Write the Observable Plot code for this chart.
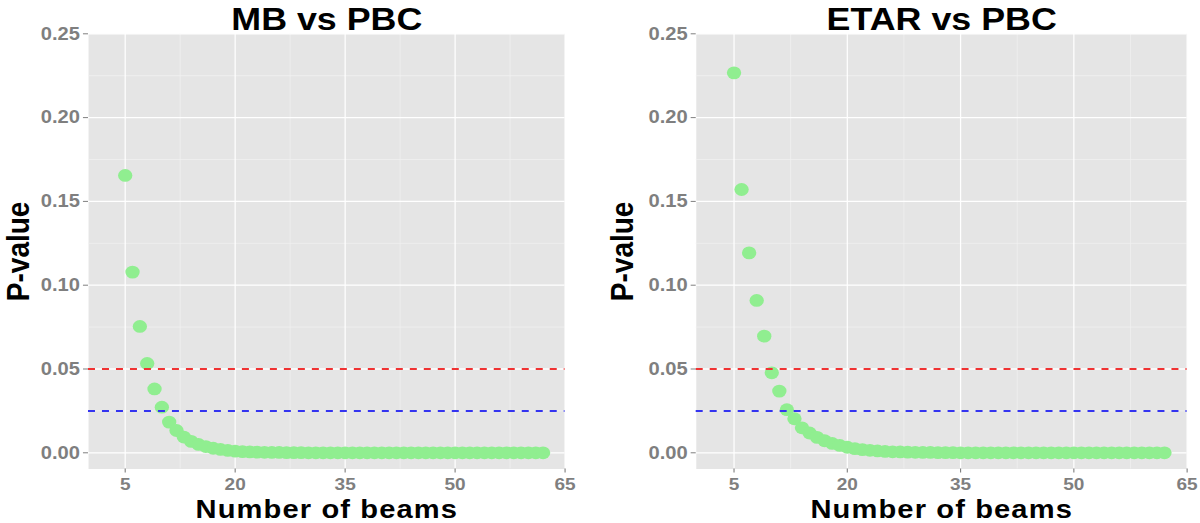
<!DOCTYPE html>
<html>
<head>
<meta charset="utf-8">
<script src="https://cdn.jsdelivr.net/npm/d3@7"></script>
<script src="https://cdn.jsdelivr.net/npm/@observablehq/plot@0.6"></script>
<style>
  html, body { margin: 0; padding: 0; background: #ffffff; }
  #wrap { display: flex; width: 1200px; height: 523px; overflow: hidden; }
  .panel { width: 600px; height: 523px; }
  .panel svg { display: block; font-family: "Liberation Sans", Arial, sans-serif; font-weight: bold; }
</style>
</head>
<body>
<div id="wrap"><div class="panel" id="left"></div><div class="panel" id="right"></div></div>
<script>
// ---- data ----
const beams = [5,6,7,8,9,10,11,12,13,14,15,16,17,18,19,20,21,22,23,24,25,26,27,28,29,30,
  31,32,33,34,35,36,37,38,39,40,41,42,43,44,45,46,47,48,49,50,51,52,53,54,55,56,57,58,59,60,61,62];

const mbPValues = [0.1655,0.1078,0.0754,0.0533,0.0381,0.0272,0.0183,0.0133,0.0094,0.0068,
  0.0050,0.0037,0.0027,0.0020,0.0014,0.0010,0.0007,0.0005,0.0004,0.0003,
  0.0002,0.0002,0.0001,0.0001,0.0001,0,0,0,0,0,
  0,0,0,0,0,0,0,0,0,0,0,0,0,0,0,0,0,0,0,0,0,0,0,0,0,0,0,0];

const etarPValues = [0.2267,0.1571,0.1193,0.0909,0.0696,0.0477,0.0368,0.0257,0.0203,0.0149,
  0.0118,0.0092,0.0072,0.0056,0.0044,0.0033,0.0025,0.0019,0.0015,0.0011,
  0.0008,0.0006,0.0005,0.0004,0.0003,0.0002,0.0002,0.0001,0.0001,0.0001,
  0,0,0,0,0,0,0,0,0,0,0,0,0,0,0,0,0,0,0,0,0,0,0,0,0,0,0,0];

const xTicks = [5, 20, 35, 50, 65];
const xMinor = [12.5, 27.5, 42.5, 57.5];
const yTicks = [0, 0.05, 0.10, 0.15, 0.20, 0.25];
const yMinor = [0.025, 0.075, 0.125, 0.175, 0.225];
const thresholds = [0.05, 0.025];
const thresholdColors = ["#F03232", "#3434F0"];
const titles = ["MB vs PBC", "ETAR vs PBC"];
const xLabel = "Number of beams";
const yLabel = "P-value";

// ---- drawing ----
const BASE_W = 536, DISP_W = 600, H = 523;

function panel(title, values, ml, mr, pvdx) {
  const data = beams.map((b, i) => ({beams: b, p: values[i]}));
  const svg = Plot.plot({
    width: BASE_W, height: H,
    marginLeft: ml, marginRight: mr, marginTop: 33.3, marginBottom: 54.5,
    x: {domain: [0, 65]},
    y: {domain: [-0.00967, 0.25]},
    style: {fontFamily: "Liberation Sans, Arial, sans-serif", fontWeight: "bold", background: "white"},
    marks: [
      Plot.frame({fill: "#E5E5E5", stroke: "none"}),
      Plot.ruleX(xMinor, {stroke: "#F2F2F2", strokeWidth: 0.6}),
      Plot.ruleY(yMinor, {stroke: "#F2F2F2", strokeWidth: 0.7}),
      Plot.ruleX(xTicks, {stroke: "#FFFFFF", strokeWidth: 1.1}),
      Plot.ruleY(yTicks, {stroke: "#FFFFFF", strokeWidth: 1.3}),
      Plot.dot(data, {x: "beams", y: "p", r: 6.4, fill: "#90EE90"}),
      Plot.ruleY(thresholds, {y: d => d, stroke: (d, i) => thresholdColors[i], strokeWidth: 2, strokeDasharray: "6.25,6.25"}),
      Plot.axisX({ticks: xTicks, label: null, tickSize: 4, tickPadding: 4.5, fontSize: 17, fontWeight: "bold", color: "#7F7F7F"}),
      Plot.axisY({ticks: yTicks, label: null, tickSize: 4.5, tickPadding: 3.2, fontSize: 18, fontWeight: "bold", color: "#7F7F7F", tickFormat: d3.format(".2f")}),
      Plot.text([title], {frameAnchor: "top", lineAnchor: "top", dy: -26.8, fontSize: 32, fontWeight: "bold", fill: "#000"}),
      Plot.text([xLabel], {frameAnchor: "bottom", lineAnchor: "top", dy: 30.4, fontSize: 26, fontWeight: "bold", fill: "#000", ariaLabel: "x-title"}),
      Plot.text([yLabel], {frameAnchor: "left", lineAnchor: "top", textAnchor: "middle", rotate: -90, dx: pvdx, fontSize: 28, fontWeight: "bold", fill: "#000"})
    ]
  });
  svg.querySelectorAll("text").forEach(t => {
    if (t.textContent === xLabel) t.setAttribute("letter-spacing", "1");
  });
  svg.setAttribute("width", DISP_W);
  svg.setAttribute("height", H);
  svg.setAttribute("viewBox", `0 0 ${BASE_W} ${H}`);
  svg.setAttribute("preserveAspectRatio", "none");
  svg.style.width = DISP_W + "px";
  svg.style.height = H + "px";
  svg.style.maxWidth = "none";
  return svg;
}

document.getElementById("left").appendChild(panel(titles[0], mbPValues, 78.6, 31.7, -72.7));
document.getElementById("right").appendChild(panel(titles[1], etarPValues, 85.5, 12, -76.8));
</script>
</body>
</html>
